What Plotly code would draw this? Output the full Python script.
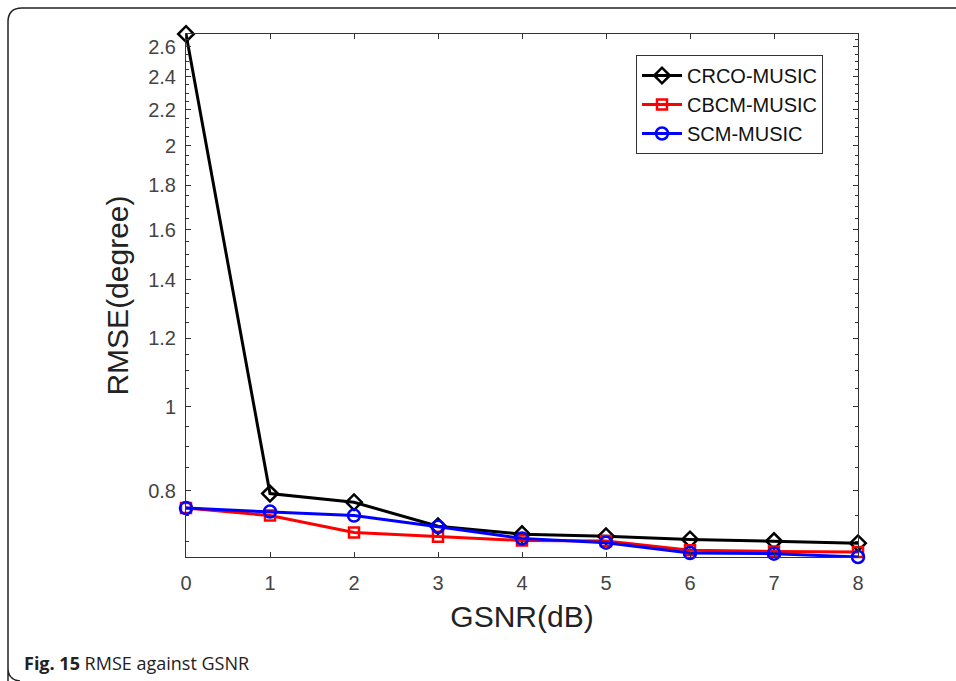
import numpy as np
import plotly.graph_objects as go

gsnr = [0, 1, 2, 3, 4, 5, 6, 7, 8]
crco_music = [2.69, 0.794, 0.776, 0.728, 0.713, 0.709, 0.703, 0.700, 0.696]
cbcm_music = [0.764, 0.749, 0.716, 0.708, 0.701, 0.700, 0.683, 0.681, 0.680]
scm_music = [0.764, 0.757, 0.749, 0.727, 0.705, 0.697, 0.678, 0.677, 0.671]

y_ticks = [0.8, 1, 1.2, 1.4, 1.6, 1.8, 2, 2.2, 2.4, 2.6]
y_tick_text = ["0.8", "1", "1.2", "1.4", "1.6", "1.8", "2", "2.2", "2.4", "2.6"]
x_ticks = [0, 1, 2, 3, 4, 5, 6, 7, 8]

W, H = 956, 681
L, R, T, B = 186, 858, 34, 557

series = [
    ("CRCO-MUSIC", crco_music, "#000000", "diamond-open", 12),
    ("CBCM-MUSIC", cbcm_music, "#ff0000", "square-open", 10),
    ("SCM-MUSIC", scm_music, "#0000ff", "circle-open", 12),
]

fig = go.Figure()
for name, ys, col, sym, sz in series:
    fig.add_trace(go.Scatter(
        x=gsnr, y=ys, name=name, mode="lines+markers",
        line=dict(color=col, width=3),
        marker=dict(symbol=sym, size=sz, color=col, line=dict(color=col, width=2.5)),
        cliponaxis=False,
    ))

minor_vals = [round(v, 2) for v in np.arange(0.70, 2.66, 0.05) if round(v, 2) not in [round(t, 2) for t in y_ticks]]

axis_col = "#333333"
tick_font = dict(family="Liberation Sans, Arial", size=20, color="#444444")

fig.update_layout(
    width=W, height=H,
    margin=dict(l=L, r=W - R, t=T, b=H - B, autoexpand=False),
    paper_bgcolor="white", plot_bgcolor="white",
    showlegend=True,
    legend=dict(
        x=(636 - L) / (R - L), y=(B - 55) / (B - T), xanchor="left", yanchor="top",
        bordercolor=axis_col, borderwidth=1, bgcolor="white",
        font=dict(family="Liberation Sans, Arial", size=20, color="#111111"),
        itemwidth=40, tracegroupgap=0,
    ),
    xaxis=dict(
        range=[0, 8], tickvals=x_ticks, ticks="inside", ticklen=5, tickcolor=axis_col,
        showline=True, linecolor=axis_col, linewidth=1, mirror="ticks",
        showgrid=False, zeroline=False, tickfont=tick_font, ticklabelstandoff=8,
        title=dict(text="GSNR(dB)", font=dict(family="Liberation Sans, Arial", size=30, color="#222222"), standoff=12),
    ),
    yaxis=dict(
        type="log", range=[np.log10(0.671), np.log10(2.69)],
        tickvals=y_ticks, ticktext=y_tick_text, ticks="inside", ticklen=5, tickcolor=axis_col,
        showline=True, linecolor=axis_col, linewidth=1, mirror="ticks",
        showgrid=False, zeroline=False, tickfont=tick_font, ticklabelstandoff=5,
        minor=dict(tickvals=minor_vals, ticks="inside", ticklen=3, tickcolor=axis_col, showgrid=False),
        title=dict(text="RMSE(degree)", font=dict(family="Liberation Sans, Arial", size=30, color="#222222"), standoff=10),
    ),
)

def px(x):
    return (x - L) / (R - L)

def py(y):
    return (B - y) / (B - T)

# figure frame (top and left edges with rounded corners)
path = (f"M {px(8)},{py(690)} L {px(8)},{py(668)} Q {px(8)},{py(680)} {px(20)},{py(681)} "
        f"M {px(8)},{py(668)} L {px(8)},{py(22)} Q {px(8)},{py(8)} {px(22)},{py(8)} L {px(960)},{py(8)}")
fig.add_shape(type="path", xref="paper", yref="paper", path=path,
              line=dict(color="#222222", width=1.5))

fig.add_annotation(
    xref="paper", yref="paper", x=px(22), y=py(663), xanchor="left", yanchor="middle",
    text="<b>Fig. 15</b> RMSE against GSNR", showarrow=False,
    font=dict(family="Open Sans", size=18, color="#222222"),
)

fig.write_html("out.html")
